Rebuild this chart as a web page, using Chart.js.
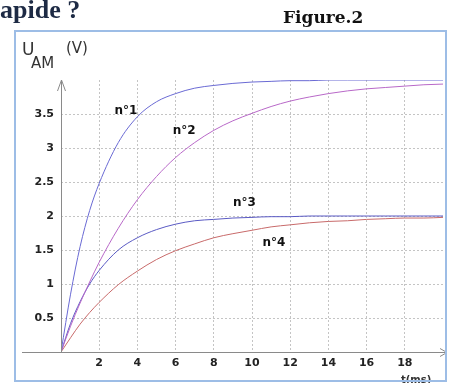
<!DOCTYPE html>
<html>
<head>
<meta charset="utf-8">
<script src="https://cdn.jsdelivr.net/npm/chart.js@4.4.0/dist/chart.umd.min.js"></script>
<style>
  html, body { margin: 0; padding: 0; background: #fff; }
  #c { display: block; }
</style>
</head>
<body>
<canvas id="c" width="450" height="383"></canvas>
<script>
// time (ms) and U_AM (V)
var times = [0, 0.5, 1, 1.5, 2, 3, 4, 5, 6, 7, 8, 9, 10, 11, 12, 13, 14, 15, 16, 17, 18, 19, 20];
var curve1 = [0, 0.85, 1.55, 2.08, 2.48, 3.08, 3.46, 3.68, 3.80, 3.88, 3.92, 3.95, 3.97, 3.98, 3.99, 3.99, 4.0, 4.0, 4.0, 4.0, 4.0, 4.0, 4.0];
var curve2 = [0, 0.38, 0.72, 1.03, 1.32, 1.82, 2.24, 2.58, 2.86, 3.08, 3.26, 3.40, 3.51, 3.61, 3.69, 3.75, 3.80, 3.84, 3.87, 3.89, 3.91, 3.93, 3.94];
var curve3 = [0, 0.42, 0.74, 1.0, 1.2, 1.5, 1.68, 1.80, 1.88, 1.93, 1.95, 1.97, 1.98, 1.99, 1.99, 2, 2, 2, 2, 2, 2, 2, 2];
var curve4 = [0, 0.21, 0.41, 0.58, 0.73, 0.99, 1.19, 1.36, 1.49, 1.59, 1.68, 1.74, 1.79, 1.84, 1.87, 1.90, 1.92, 1.93, 1.95, 1.96, 1.97, 1.97, 1.98];

var curveNames = ['n°1', 'n°2', 'n°3', 'n°4'];
var labelTimes = [3.4, 6.45, 9.6, 11.15];
var labelVolts = [3.54, 3.25, 2.19, 1.61];

function points(ys) {
    return times.map(function(t, i) { return { x: t, y: ys[i] }; });
}

function line(ys, color) {
    return {
        data: points(ys),
        borderColor: color,
        borderWidth: 1,
        pointRadius: 0,
        cubicInterpolationMode: 'monotone',
        fill: false
    };
}

// frame, axes with arrows, titles and curve labels
var decor = {
    id: 'decor',
    afterDraw: function(chart) {
        var ctx = chart.ctx;
        var xs = chart.scales.x, ys = chart.scales.y;
        var x0 = xs.getPixelForValue(0), y0 = ys.getPixelForValue(0);
        var yTop = ys.getPixelForValue(4);
        ctx.save();

        // axes
        ctx.strokeStyle = '#8a8a8a';
        ctx.lineWidth = 1;
        ctx.beginPath();
        ctx.moveTo(22, y0 + 0.5); ctx.lineTo(447, y0 + 0.5);
        ctx.moveTo(440, y0 - 3.5); ctx.lineTo(447, y0 + 0.5); ctx.lineTo(440, y0 + 4.5);
        ctx.moveTo(x0 + 0.5, y0); ctx.lineTo(x0 + 0.5, yTop);
        ctx.moveTo(x0 - 3.5, yTop + 11); ctx.lineTo(x0 + 0.5, yTop); ctx.lineTo(x0 + 4.5, yTop + 11);
        ctx.stroke();

        // curve labels
        ctx.fillStyle = '#111';
        ctx.font = 'bold 12px "DejaVu Sans"';
        ctx.textAlign = 'center';
        ctx.textBaseline = 'middle';
        curveNames.forEach(function(n, i) {
            ctx.fillText(n, xs.getPixelForValue(labelTimes[i]), ys.getPixelForValue(labelVolts[i]));
        });

        // axis titles
        ctx.fillStyle = '#333';
        ctx.textAlign = 'left';
        ctx.textBaseline = 'alphabetic';
        ctx.font = '17px "DejaVu Sans"';
        ctx.fillText('U', 22, 55);
        ctx.font = '15px "DejaVu Sans"';
        ctx.fillText('AM', 31, 68);
        ctx.fillText('(V)', 66, 53);
        ctx.font = 'bold 10px "DejaVu Sans"';
        ctx.fillText('t(ms)', 401, 383);

        // frame
        ctx.strokeStyle = '#9dbde6';
        ctx.lineWidth = 2;
        ctx.strokeRect(15, 31, 431, 350);

        // text above the frame
        ctx.fillStyle = '#1d2a44';
        ctx.font = 'bold 26px "Liberation Serif"';
        ctx.fillText('apide ?', 0, 18);
        ctx.fillStyle = '#111';
        ctx.font = 'bold 17px "DejaVu Serif"';
        ctx.fillText('Figure.2', 283, 23);
        ctx.restore();
    }
};

function gridColor(edge) {
    return function(c) {
        var v = c.tick ? c.tick.value : null;
        return (v === 0 || v === edge) ? 'rgba(0,0,0,0)' : '#c4c4c4';
    };
}

new Chart(document.getElementById('c'), {
    type: 'line',
    data: {
        datasets: [
            line(curve1, '#6a6ad4'),
            line(curve2, '#b868c8'),
            line(curve3, '#5a5ac4'),
            line(curve4, '#c86a6a')
        ]
    },
    options: {
        responsive: false,
        animation: false,
        devicePixelRatio: 1,
        layout: { padding: { top: 80, right: 7, left: 0, bottom: 0 } },
        plugins: { legend: { display: false }, tooltip: { enabled: false } },
        scales: {
            x: {
                type: 'linear',
                min: 0,
                max: 20,
                afterFit: function(s) { s.height = 31; },
                grid: { color: gridColor(20), drawTicks: false },
                border: { display: false, dash: [2, 2] },
                ticks: {
                    stepSize: 2,
                    padding: 5,
                    color: '#222',
                    font: { family: 'DejaVu Sans', size: 11, weight: 'bold' },
                    callback: function(v) { return (v === 0 || v === 20) ? '' : v; }
                }
            },
            y: {
                min: 0,
                max: 4,
                afterFit: function(s) { s.width = 61; },
                grid: { color: gridColor(4), drawTicks: false },
                border: { display: false, dash: [2, 2] },
                ticks: {
                    stepSize: 0.5,
                    padding: 7,
                    color: '#222',
                    font: { family: 'DejaVu Sans', size: 11, weight: 'bold' },
                    callback: function(v) { return (v === 0 || v === 4) ? '' : v; }
                }
            }
        }
    },
    plugins: [decor]
});
</script>
</body>
</html>
